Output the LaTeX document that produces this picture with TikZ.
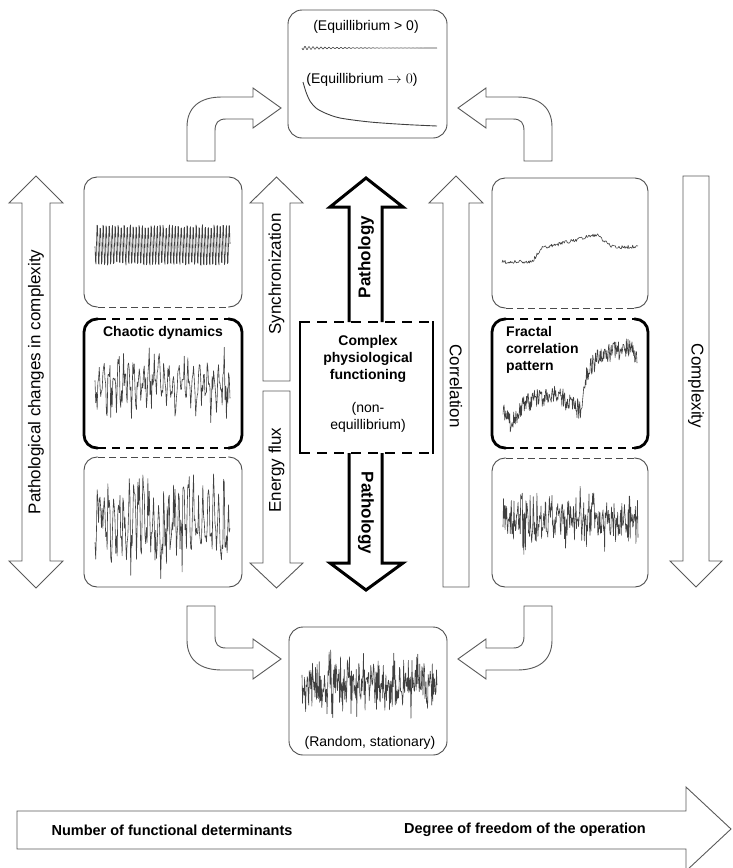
\documentclass[tikz,border=0pt]{standalone}
\usepackage{fontspec}
\setmainfont{Liberation Sans}
\usetikzlibrary{calc}
\tikzset{
    thinedge/.style={draw=black!70, line width=0.9pt},
    thickedge/.style={draw=black, line width=2.8pt},
    blockarrow/.style={draw=black!65, line width=0.9pt, fill=white, line join=miter},
    patharrow/.style={draw=black, line width=3pt, line join=miter},
    signal/.style={draw=black!75, line width=0.6pt, line join=round},
    lab/.style={font=\fontsize{17}{19}\selectfont, inner sep=0pt},
    boldlab/.style={font=\fontsize{17}{19}\selectfont\bfseries, inner sep=0pt},
    txt/.style={font=\fontsize{14}{17}\selectfont, inner sep=0pt, align=center},
    txtbold/.style={font=\fontsize{14}{17}\selectfont\bfseries, inner sep=0pt, align=center},
    axislab/.style={font=\fontsize{14.5}{17}\selectfont\bfseries, inner sep=0pt},
    bentarrow/.pic={
        \draw[blockarrow] (187,161) -- (187,127) .. controls (187,107) and (200,97) .. (222,97)
            -- (253,97) -- (253,88) -- (281,108) -- (253,128) -- (253,119) -- (226,119)
            .. controls (218,119) and (215,123) .. (215,131) -- (215,161) -- cycle;
    },
}

\begin{document}
\begin{tikzpicture}[x=1pt,y=-1pt,
    declare function={rmp(\t,\a,\b)=min(max((\t-\a)/(\b-\a),0),1);}]
                                    \useasboundingbox (0,0) rectangle (732,868);
                                    \pgfmathsetseed{7}
                                    %bent arrows to the two end states
                                    \pic at (0,0) {bentarrow};
                                    \pic[xscale=-1] at (739,0) {bentarrow};
                                    \pic[yscale=-1] at (0,767) {bentarrow};
                                    \pic[xscale=-1,yscale=-1] at (739,767) {bentarrow};
                                    %top state (equilibrium)
                                    \draw[thinedge, rounded corners=14pt] (288,10) rectangle (447,138);
                                    \node[txt] (eqpos) at (366,27) {(Equillibrium > 0)};
                                    \draw[signal] plot[domain=0:135, samples=271] ({302+\x}, {48+1.8*sin(360*frac(\x/4))*exp(-\x/35)});
                                    \node[txt] (eqzero) at (362,80) {(Equillibrium $\rightarrow 0$)};
                                    \draw[signal, line width=0.9pt] plot[smooth] coordinates {(303,82) (306,92) (310,101) (316,108) (325,113) (340,118) (370,122) (405,124.5) (437,126)};
                                    %bottom state (random)
                                    \draw[thinedge, rounded corners=14pt] (289,627) rectangle (447,755);
                                    \draw[signal] plot[domain=302:437, samples=260] (\x, {684+20*rand+26*rand*abs(rand)});
                                    \node[txt] (rnd) at (370,743) {(Random, stationary)};
                                    %left column
                                    \draw[thinedge, rounded corners=13pt] (98,307) -- (84,307) -- (84,177) -- (242,177) -- (242,307) -- (228,307);
                                    \draw[thinedge, dash pattern=on 7pt off 4pt] (98,307) -- (228,307);
                                    \draw[signal] plot[domain=0:45, samples=271] ({95+3*\x}, {245+21*sin(360*frac(\x))+2*rand});
                                    \draw[thickedge, rounded corners=13pt] (98,319) -- (84,319) -- (84,448) -- (98,448);
                                    \draw[thickedge, rounded corners=13pt] (228,319) -- (242,319) -- (242,448) -- (228,448);
                                    \draw[thickedge, dash pattern=on 8pt off 6pt] (98,319) -- (228,319) (98,448) -- (228,448);
                                    \node[txtbold] (chaos) at (163,333) {Chaotic dynamics};
                                    \draw[signal] plot[domain=0:27, samples=190] ({95+5*\x}, {384+(20+16*rand)*sin(360*frac(\x)+70*rand)+6*rand});
                                    \draw[thinedge, rounded corners=13pt] (98,457) -- (84,457) -- (84,587) -- (242,587) -- (242,457) -- (228,457);
                                    \draw[thinedge, dash pattern=on 7pt off 4pt] (98,457) -- (228,457);
                                    \draw[signal] plot[domain=0:27, samples=190] ({95+5*\x}, {522+(32+18*rand)*sin(360*frac(\x)+70*rand)+8*rand});
                                    %right column
                                    \draw[thinedge, rounded corners=13pt] (506,308) -- (492,308) -- (492,178) -- (648,178) -- (648,308) -- (634,308);
                                    \draw[thinedge, dash pattern=on 7pt off 4pt] (506,308) -- (634,308);
                                    \draw[signal] plot[domain=0:136, samples=180] ({502+\x}, {262-15*rmp(\x,30,40)-12*rmp(\x,45,93)+12*rmp(\x,95,110)+1.8*rand});
                                    \draw[thickedge, rounded corners=13pt] (506,319) -- (492,319) -- (492,448) -- (506,448);
                                    \draw[thickedge, rounded corners=13pt] (634,319) -- (648,319) -- (648,448) -- (634,448);
                                    \draw[thickedge, dash pattern=on 8pt off 6pt] (506,319) -- (634,319) (506,448) -- (634,448);
                                    \node[txtbold, align=left, anchor=north west] (fractal) at (506,326) {Fractal\\correlation\\pattern};
                                    \draw[signal] plot[domain=0:134, samples=240] ({503+\x}, {410+15*rmp(\x,0,9)-20*rmp(\x,9,20)-13*rmp(\x,20,50)+18*rmp(\x,50,77)-38*rmp(\x,77,84)-17*rmp(\x,84,97)-7*rmp(\x,97,124)+7*rmp(\x,124,134)+10*rand});
                                    \draw[thinedge, rounded corners=13pt] (506,458) -- (492,458) -- (492,587) -- (648,587) -- (648,458) -- (634,458);
                                    \draw[thinedge, dash pattern=on 7pt off 4pt] (506,458) -- (634,458);
                                    \draw[signal] plot[domain=503:638, samples=260] (\x, {520+18*rand+26*rand*abs(rand)});
                                    %centre : complex functioning
                                    \draw[thickedge, line cap=rect] (300,322) -- (300,453) (433,322) -- (433,453);
                                    \draw[thickedge, dash pattern=on 10pt off 7pt] (300,322) -- (433,322) (300,453) -- (433,453);
                                    \node[txtbold] (cpf) at (368,359) {Complex\\physiological\\functioning};
                                    \node[txt] (noneq) at (368,417) {(non-\\equillibrium)};
                                    \draw[patharrow] (349,322) -- (349,207) -- (330,207) -- (366,178) -- (403,207) -- (382,207) -- (382,322);
                                    \draw[patharrow] (349,453) -- (349,563) -- (330,563) -- (366,590) -- (403,563) -- (382,563) -- (382,453);
                                    \node[boldlab, rotate=90] (pathup) at (366,257) {Pathology};
                                    \node[boldlab, rotate=-90] (pathdown) at (366,513) {Pathology};
                                    %straight block arrows
                                    \draw[blockarrow] (263,381) -- (263,203) -- (250,203) -- (276.5,177) -- (303,203) -- (290,203) -- (290,381) -- cycle;
                                    \node[lab, rotate=90] (sync) at (276.5,274) {Synchronization};
                                    \draw[blockarrow] (263,391) -- (263,563) -- (250,563) -- (276.5,588) -- (303,563) -- (290,563) -- (290,391) -- cycle;
                                    \node[lab, rotate=90] (flux) at (276.5,470) {Energy flux};
                                    \draw[blockarrow] (443,587) -- (443,203) -- (429,203) -- (456,176) -- (483,203) -- (469,203) -- (469,587) -- cycle;
                                    \node[lab, rotate=-90] (corr) at (456,386) {Correlation};
                                    \draw[blockarrow] (683,176) -- (683,561) -- (670,561) -- (696,587) -- (722,561) -- (709,561) -- (709,176) -- cycle;
                                    \node[lab, rotate=-90] (cplx) at (696,386) {Complexity};
                                    \draw[blockarrow] (22,203) -- (9,203) -- (36,176) -- (63,203) -- (50,203) -- (50,561) -- (63,561) -- (36,588) -- (9,561) -- (22,561) -- cycle;
                                    \node[lab, rotate=90] (pchange) at (36,382) {Pathological changes in complexity};
                                    %horizontal axis
                                    \draw[blockarrow] (17,811) -- (686,811) -- (686,787) -- (731,829) -- (686,871) -- (686,849) -- (17,849) -- cycle;
                                    \node[axislab] (ndet) at (172,830) {Number of functional determinants};
                                    \node[axislab] (dof) at (525,830) {Degree of freedom of the operation};
\end{tikzpicture}
\end{document}
